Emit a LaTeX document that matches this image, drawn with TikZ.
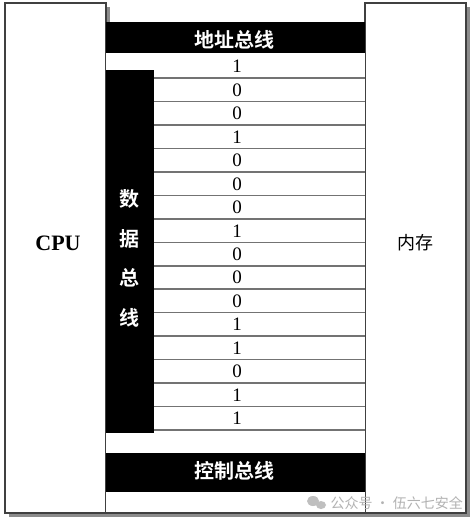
\documentclass[tikz,border=0pt]{standalone}
\usepackage{fontspec}
\setmainfont{Liberation Serif}
\newfontfamily\cjk{Noto Sans CJK SC}
\newfontfamily\cjkb{Noto Sans CJK SC Bold}
\usepackage{xcolor}
\usetikzlibrary{positioning}

\tikzset{
  unitbox/.style={draw=black!75, line width=1.4pt, fill=white},
  unitshadow/.style={fill=black!45},
  busbar/.style={fill=black},
  buslabel/.style={text=white, font=\cjkb\fontsize{20}{20}\selectfont},
  bitline/.style={draw=black!55, line width=1.5pt},
  bitlabel/.style={font=\fontsize{19}{19}\selectfont}
}

\begin{document}
\begin{tikzpicture}[x=1pt, y=-1pt]

\useasboundingbox (0,0) rectangle (474,522);

% shadows
\fill[unitshadow] (9,7) rectangle (110,517);
\fill[unitshadow] (369,7) rectangle (470,517);
\fill[unitshadow] (106,513) rectangle (369,517);

% CPU and memory
\draw[unitbox] (5,3) rectangle (106,513);
\draw[unitbox] (365,3) rectangle (466,513);
\fill[white] (106,22) rectangle (365,512.3);
\draw[draw=black!75, line width=1.4pt] (106,513)--(365,513);

\node[font=\bfseries\fontsize{22}{22}\selectfont] (cpu) at (58,243) {CPU};
\node[font=\cjk\fontsize{18}{18}\selectfont] (mem) at (415,243) {内存};

% address bus
\fill[busbar] (106,22) rectangle (365,53);
\node[buslabel] (addr) at (234,40) {地址总线};

% data bus
\fill[busbar] (106,70) rectangle (154,433);
\foreach \ch [count=\i from 0] in {数,据,总,线}
\node[buslabel] (data\i) at (129,199+39.5*\i) {\ch};

\foreach \i in {0,...,15}
\draw[bitline] (154,78+23.47*\i)--(365,78+23.47*\i);

\foreach \b [count=\i from 0] in {1,0,0,1,0,0,0,1,0,0,0,1,1,0,1,1}
\node[bitlabel] (bit\i) at (237,66.5+23.47*\i) {\b};

% control bus
\fill[busbar] (106,453) rectangle (365,492);
\node[buslabel] (ctrl) at (234,471) {控制总线};

% watermark
\fill[black!25] (313,501) ellipse [x radius=6, y radius=5];
\fill[black!25] (321,505) ellipse [x radius=5, y radius=4];
\node[font=\cjk\fontsize{14}{14}\selectfont, text=black!30, anchor=west] (mark) at (327,503) {公众号 · 伍六七安全};

\end{tikzpicture}
\end{document}
